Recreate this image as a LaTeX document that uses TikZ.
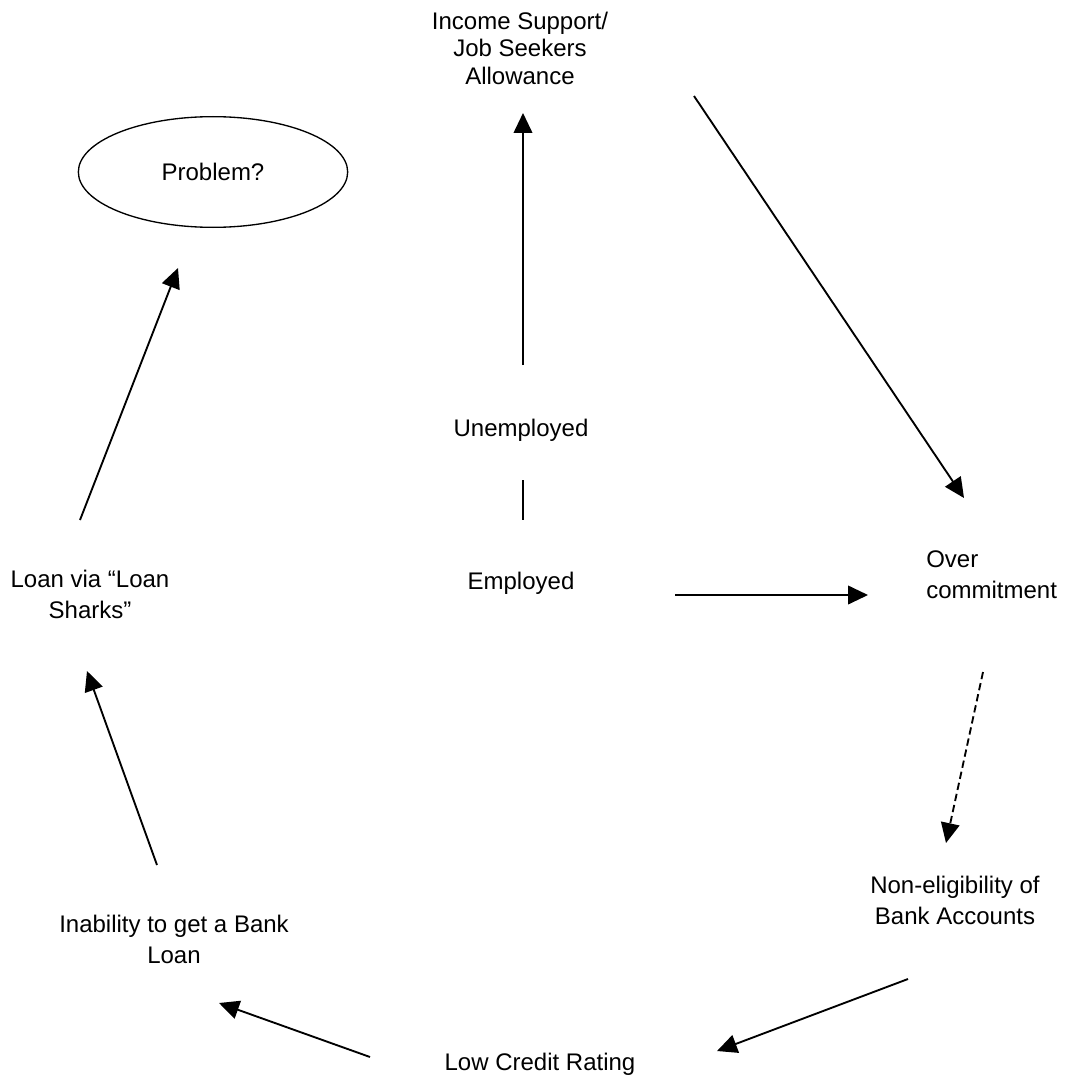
\documentclass[tikz,border=0pt]{standalone}
\usepackage{fontspec}
\setmainfont{Liberation Sans}
\usetikzlibrary{arrows.meta,shapes.geometric}
\begin{document}
\begin{tikzpicture}[x=0.75pt,y=-0.75pt,
  lbl/.style={inner sep=0pt,align=center,font=\fontsize{18}{23.2}\selectfont},
  lbltight/.style={inner sep=0pt,align=center,font=\fontsize{18}{20.6}\selectfont},
  arr/.style={line width=1.4pt,-{Triangle[length=15pt,width=14pt]}},
  plain/.style={line width=1.4pt},
  dsh/.style={line width=1.4pt,dash pattern=on 5.5pt off 3pt,-{Triangle[length=15pt,width=14pt]}}]
\useasboundingbox (0,0) rectangle (1065,1077);
% labels
\node[lbltight] (income) at (520,48) {Income Support/\\Job Seekers\\Allowance};
\node[draw,ellipse,line width=1pt,minimum width=202pt,minimum height=83pt,lbl] (problem) at (213,172) {Problem?};
\node[lbl] (unemp) at (521,430) {Unemployed};
\node[lbl] (emp) at (521,583) {Employed};
\node[lbl,align=left,anchor=west] (over) at (926,575) {Over\\commitment};
\node[lbl] (nonel) at (955,900) {Non-eligibility of\\Bank Accounts};
\node[lbl] (low) at (540,1064) {Low Credit Rating};
\node[lbl] (inab) at (174,939) {Inability to get a Bank\\Loan};
\node[lbl] (shark) at (90,594) {Loan via “Loan\\Sharks”};
% connector end points
\coordinate (a1) at (523,365); \coordinate (a2) at (523,113);
\coordinate (b1) at (523,480); \coordinate (b2) at (523,520);
\coordinate (c1) at (675,595); \coordinate (c2) at (868,595);
\coordinate (d1) at (694,96);  \coordinate (d2) at (964,498);
\coordinate (e1) at (983,672); \coordinate (e2) at (946,843);
\coordinate (f1) at (908,979); \coordinate (f2) at (717,1051);
\coordinate (g1) at (370,1057); \coordinate (g2) at (219,1003);
\coordinate (h1) at (157,865); \coordinate (h2) at (87,671);
\coordinate (i1) at (80,520);  \coordinate (i2) at (178,268);
% connectors
\draw[arr] (a1) -- (a2);
\draw[plain] (b1) -- (b2);
\draw[arr] (c1) -- (c2);
\draw[arr] (d1) -- (d2);
\draw[dsh] (e1) -- (e2);
\draw[arr] (f1) -- (f2);
\draw[arr] (g1) -- (g2);
\draw[arr] (h1) -- (h2);
\draw[arr] (i1) -- (i2);
\end{tikzpicture}
\end{document}
